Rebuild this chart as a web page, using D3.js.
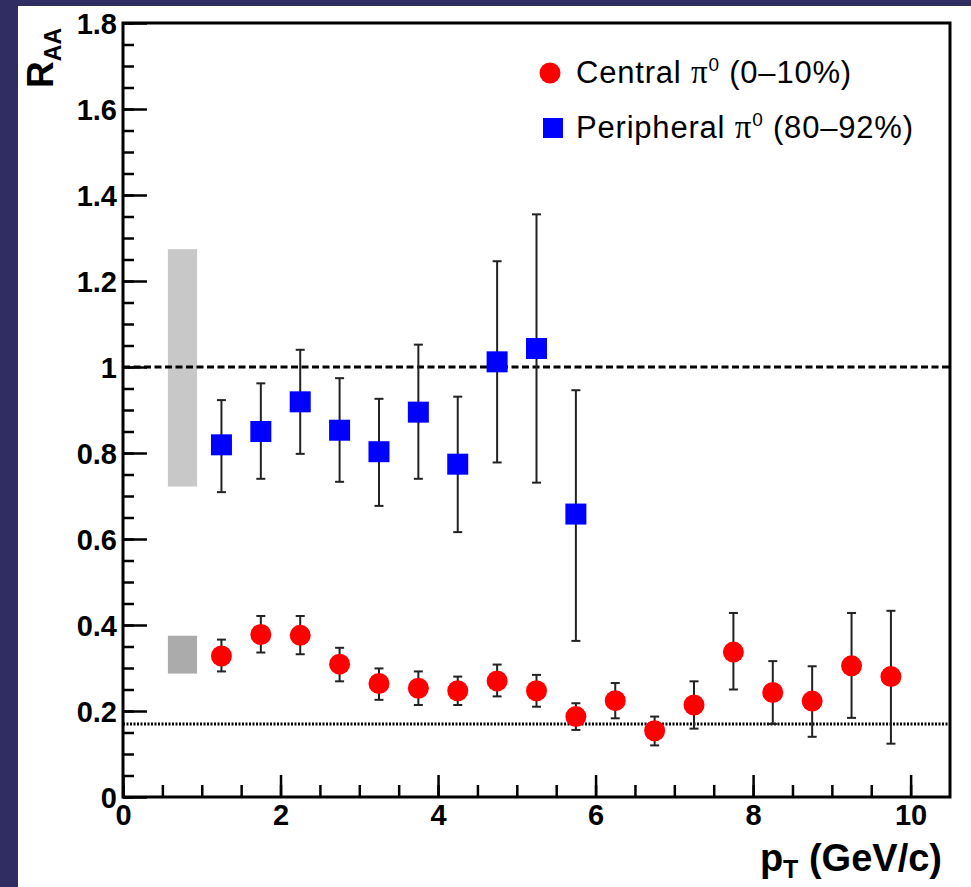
<!DOCTYPE html>
<html>
<head>
<meta charset="utf-8">
<script src="https://cdn.jsdelivr.net/npm/d3@7"></script>
<style>
  body { margin: 0; background: #2f2d62; }
  svg { display: block; }
</style>
</head>
<body>
<svg id="chart" width="971" height="887"></svg>
<script>
// pT bin centres (GeV/c)
var ptCentral = [1.25, 1.75, 2.25, 2.75, 3.25, 3.75, 4.25, 4.75, 5.25, 5.75, 6.25, 6.75, 7.25, 7.75, 8.25, 8.75, 9.25, 9.75];
var raaCentral = [0.328, 0.378, 0.376, 0.309, 0.264, 0.253, 0.247, 0.270, 0.247, 0.187, 0.224, 0.154, 0.214, 0.337, 0.243, 0.223, 0.305, 0.280];
var loCentral = [0.292, 0.336, 0.332, 0.269, 0.226, 0.214, 0.214, 0.234, 0.210, 0.156, 0.183, 0.120, 0.159, 0.250, 0.170, 0.140, 0.184, 0.124];
var hiCentral = [0.366, 0.421, 0.421, 0.347, 0.299, 0.292, 0.280, 0.308, 0.284, 0.218, 0.265, 0.187, 0.269, 0.428, 0.316, 0.304, 0.428, 0.433];

var ptPeriph = [1.25, 1.75, 2.25, 2.75, 3.25, 3.75, 4.25, 4.75, 5.25, 5.75];
var raaPeriph = [0.819, 0.850, 0.919, 0.853, 0.803, 0.895, 0.774, 1.012, 1.043, 0.658];
var loPeriph = [0.709, 0.740, 0.798, 0.733, 0.677, 0.740, 0.616, 0.778, 0.731, 0.363];
var hiPeriph = [0.923, 0.962, 1.040, 0.974, 0.926, 1.052, 0.931, 1.246, 1.355, 0.946];

// normalisation uncertainty boxes (peripheral, central)
var boxLow = [0.722, 0.287];
var boxHigh = [1.274, 0.375];
var boxFill = ["#c8c8c8", "#ababab"];

var xTicks = [0, 2, 4, 6, 8, 10];
var yTicks = [0, 0.2, 0.4, 0.6, 0.8, 1, 1.2, 1.4, 1.6, 1.8];
var unityLine = 1.0;
var centralRef = 0.17;

var svg = d3.select("#chart");

svg.append("rect").attr("width", 971).attr("height", 887).attr("fill", "#2f2d62");
svg.append("rect").attr("x", 18).attr("y", 6).attr("width", 953).attr("height", 881).attr("fill", "#ffffff");

var x = d3.scaleLinear().domain([0, 10.5]).range([123, 950]);
var y = d3.scaleLinear().domain([0, 1.8]).range([797, 23]);

// systematic boxes
svg.selectAll(".sysbox")
   .data(boxLow)
   .enter().append("rect")
   .attr("class", "sysbox")
   .attr("x", x(0.57))
   .attr("width", x(0.94) - x(0.57))
   .attr("y", function(d, i) { return y(boxHigh[i]); })
   .attr("height", function(d, i) { return y(d) - y(boxHigh[i]); })
   .attr("fill", function(d, i) { return boxFill[i]; });

// reference lines
svg.append("line")
   .attr("x1", x(0)).attr("x2", x(10.5))
   .attr("y1", y(unityLine)).attr("y2", y(unityLine))
   .attr("stroke", "#000").attr("stroke-width", 3)
   .attr("stroke-dasharray", "7,3.5");

svg.append("line")
   .attr("x1", x(0)).attr("x2", x(10.5))
   .attr("y1", y(centralRef)).attr("y2", y(centralRef))
   .attr("stroke", "#000").attr("stroke-width", 3)
   .attr("stroke-dasharray", "2,1.5");

// axes: minor then major ticks, drawn inward
var fmt = d3.format("~g");

svg.append("g")
   .attr("transform", "translate(" + x(0) + ",0)")
   .call(d3.axisLeft(y).tickValues(d3.range(0, 1.801, 0.05)).tickSizeInner(-11).tickSizeOuter(0).tickFormat(""));
svg.append("g")
   .attr("class", "yaxis")
   .attr("transform", "translate(" + x(0) + ",0)")
   .call(d3.axisLeft(y).tickValues(yTicks).tickSizeInner(-24).tickSizeOuter(0).tickPadding(6).tickFormat(fmt));

svg.append("g")
   .attr("transform", "translate(0," + y(0) + ")")
   .call(d3.axisBottom(x).tickValues(d3.range(0, 10.01, 0.5)).tickSizeInner(-12).tickSizeOuter(0).tickFormat(""));
svg.append("g")
   .attr("class", "xaxis")
   .attr("transform", "translate(0," + y(0) + ")")
   .call(d3.axisBottom(x).tickValues(xTicks).tickSizeInner(-22).tickSizeOuter(0).tickPadding(8).tickFormat(fmt));

svg.selectAll(".tick line").attr("stroke", "#000").attr("stroke-width", 2.5);
svg.selectAll(".domain").attr("stroke", "none");
svg.selectAll(".yaxis text, .xaxis text")
   .attr("font-family", "Liberation Sans, Arial, sans-serif")
   .attr("font-weight", "bold")
   .attr("font-size", "29px")
   .attr("fill", "#000");
svg.selectAll(".yaxis text").attr("dy", "0.36em");
svg.selectAll(".xaxis text").attr("dy", "0.7em");

// frame
svg.append("rect")
   .attr("x", x(0)).attr("y", y(1.8))
   .attr("width", x(10.5) - x(0)).attr("height", y(0) - y(1.8))
   .attr("fill", "none").attr("stroke", "#000").attr("stroke-width", 3);

// error bars
function errorBars(cls, pts, lo, hi) {
    var g = svg.append("g").attr("class", cls);
    g.selectAll("line.v").data(pts).enter().append("line")
     .attr("x1", function(d) { return x(d); }).attr("x2", function(d) { return x(d); })
     .attr("y1", function(d, i) { return y(lo[i]); }).attr("y2", function(d, i) { return y(hi[i]); });
    g.selectAll("line.lo").data(pts).enter().append("line")
     .attr("x1", function(d) { return x(d) - 4.5; }).attr("x2", function(d) { return x(d) + 4.5; })
     .attr("y1", function(d, i) { return y(lo[i]); }).attr("y2", function(d, i) { return y(lo[i]); });
    g.selectAll("line.hi").data(pts).enter().append("line")
     .attr("x1", function(d) { return x(d) - 4.5; }).attr("x2", function(d) { return x(d) + 4.5; })
     .attr("y1", function(d, i) { return y(hi[i]); }).attr("y2", function(d, i) { return y(hi[i]); });
    g.selectAll("line").attr("stroke", "#222").attr("stroke-width", 2);
}
errorBars("errPeriph", ptPeriph, loPeriph, hiPeriph);
errorBars("errCentral", ptCentral, loCentral, hiCentral);

svg.selectAll(".sq")
   .data(ptPeriph)
   .enter().append("rect")
   .attr("class", "sq")
   .attr("x", function(d) { return x(d) - 10.5; })
   .attr("y", function(d, i) { return y(raaPeriph[i]) - 10.5; })
   .attr("width", 21).attr("height", 21)
   .attr("fill", "#0000ff");

svg.selectAll(".dot")
   .data(ptCentral)
   .enter().append("circle")
   .attr("class", "dot")
   .attr("cx", function(d) { return x(d); })
   .attr("cy", function(d, i) { return y(raaCentral[i]); })
   .attr("r", 10.5)
   .attr("fill", "#ff0000");

// legend
var legend = svg.append("g")
   .attr("font-family", "Liberation Sans, Arial, sans-serif")
   .attr("font-size", "31px")
   .attr("letter-spacing", "0.8px")
   .attr("fill", "#000");
legend.append("circle").attr("cx", 550).attr("cy", 73).attr("r", 10.5).attr("fill", "#ff0000");
legend.append("rect").attr("x", 543).attr("y", 118).attr("width", 20).attr("height", 20).attr("fill", "#0000ff");

function legendText(yy, label, range) {
    var t = legend.append("text").attr("x", 576).attr("y", yy);
    t.append("tspan").text(label + " ");
    t.append("tspan").attr("font-family", "Liberation Serif, serif").attr("font-size", "33px").text("\u03c0");
    t.append("tspan").attr("font-size", "19px").attr("dy", "-12").text("0");
    t.append("tspan").attr("dy", "12").text(" " + range);
}
legendText(83, "Central", "(0\u201310%)");
legendText(138, "Peripheral", "(80\u201392%)");

// axis titles
var yt = svg.append("text")
   .attr("transform", "translate(53,28) rotate(-90)")
   .attr("text-anchor", "end")
   .attr("font-family", "Liberation Sans, Arial, sans-serif")
   .attr("font-weight", "bold")
   .attr("font-size", "37px");
yt.append("tspan").text("R");
yt.append("tspan").attr("font-size", "23px").attr("dy", "8").text("AA");

var xt = svg.append("text")
   .attr("x", 942).attr("y", 871)
   .attr("text-anchor", "end")
   .attr("font-family", "Liberation Sans, Arial, sans-serif")
   .attr("font-weight", "bold")
   .attr("font-size", "38px");
xt.append("tspan").text("p");
xt.append("tspan").attr("font-size", "25px").attr("dy", "7").text("T");
xt.append("tspan").attr("dy", "-7").text(" (GeV/c)");
</script>
</body>
</html>
